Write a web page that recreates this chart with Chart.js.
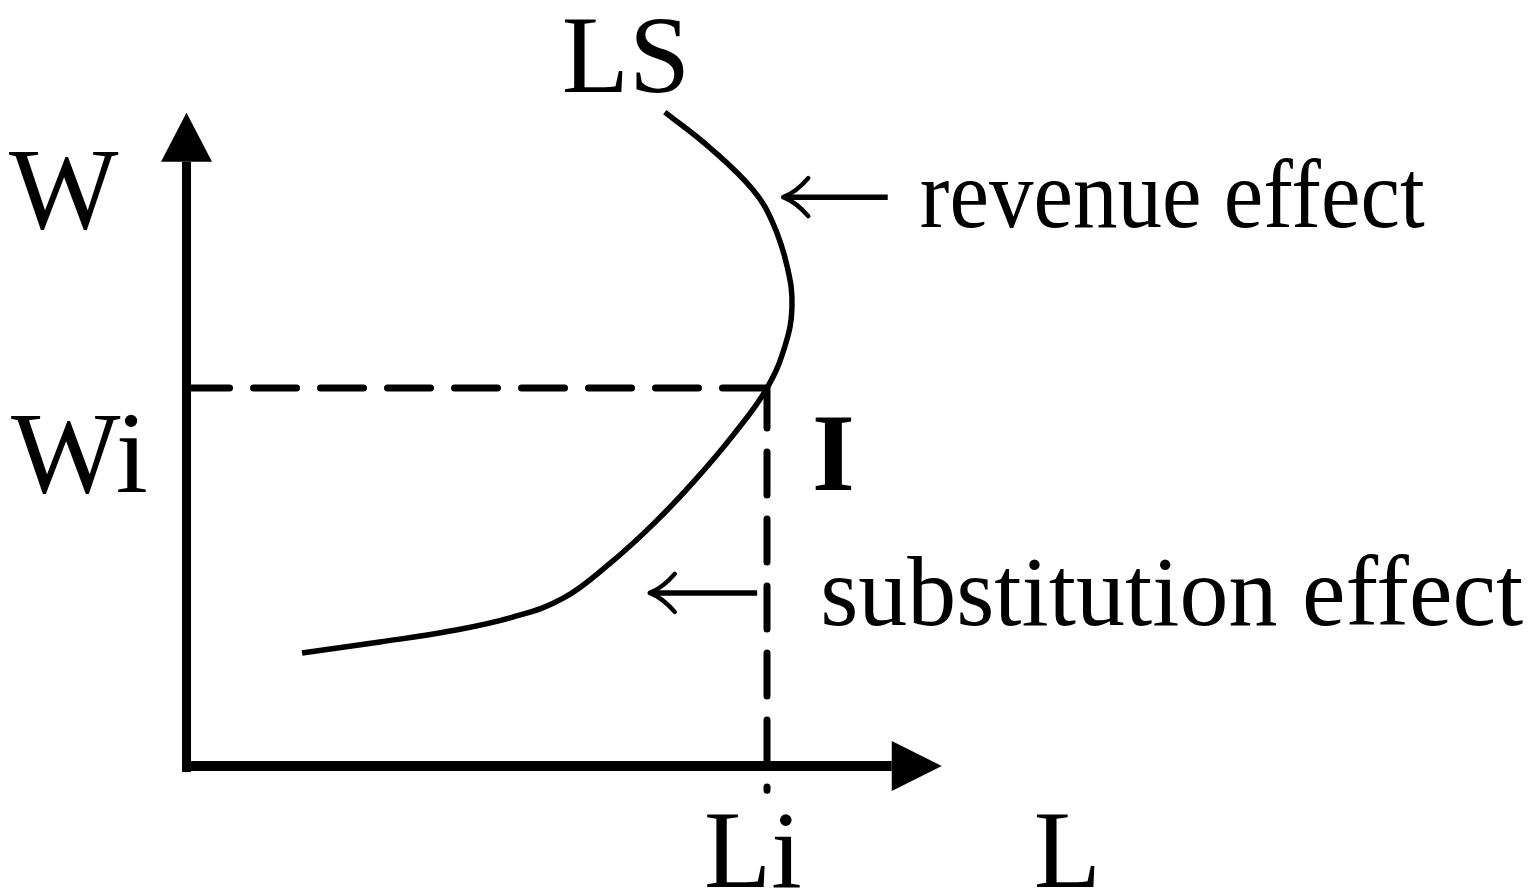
<!DOCTYPE html>
<html>
<head>
<meta charset="utf-8">
<script src="https://cdn.jsdelivr.net/npm/chart.js@4.4.1/dist/chart.umd.min.js"></script>
<style>
html, body { margin: 0; padding: 0; background: #fff; }
#wrap { position: relative; width: 1534px; height: 890px; }
</style>
</head>
<body>
<div id="wrap"><canvas id="chart"></canvas></div>
<script>
// backward-bending labour supply curve LS (labour L, wage W), Li = Wi = 100
const supplyL = [19.9, 33.3, 45.4, 56.2, 64.9, 73.0, 80.4, 87.3, 94.2, 100, 103.1, 104.3, 103.5, 101.0, 97.6, 90.2, 82.4];
const supplyW = [29.9, 32.8, 35.7, 39.4, 44.4, 53.7, 64.0, 75.1, 87.6, 100, 111.1, 121.4, 132.0, 143.7, 152.4, 163.5, 173.0];
const pointI = { L: 100, W: 100 };
const axisEnd = { L: 130.1, W: 172.8 };
const axisNames = ['L', 'W'];
const tickLabels = ['Li', 'Wi'];
const curveLabel = 'LS';
const pointLabel = 'I';
const effectLabels = ['revenue effect', 'substitution effect'];
// arrows: [tail L, tip L, W]
const revenueArrow = [120.8, 102.8, 150.5];
const substitutionArrow = [98.3, 79.8, 45.8];

const serif = '"Liberation Serif", "Times New Roman", serif';

function drawArrowLeft(ctx, x1, x2, y) {
    ctx.save();
    ctx.strokeStyle = '#000';
    ctx.lineWidth = 5.5;
    ctx.lineCap = 'butt';
    ctx.beginPath();
    ctx.moveTo(x1, y);
    ctx.lineTo(x2 + 4, y);
    ctx.stroke();
    ctx.lineWidth = 4.5;
    ctx.lineCap = 'round';
    ctx.beginPath();
    ctx.moveTo(x2, y);
    ctx.quadraticCurveTo(x2 + 13, y - 5, x2 + 25, y - 19);
    ctx.moveTo(x2, y);
    ctx.quadraticCurveTo(x2 + 13, y + 5, x2 + 25, y + 19);
    ctx.stroke();
    ctx.restore();
}

const diagram = {
    id: 'diagram',
    afterDatasetsDraw(chart) {
        const ctx = chart.ctx;
        const X = v => chart.scales.x.getPixelForValue(v);
        const Y = v => chart.scales.y.getPixelForValue(v);
        const x0 = X(0), y0 = Y(0);
        const xTip = X(axisEnd.L), yTip = Y(axisEnd.W);

        ctx.save();
        ctx.fillStyle = '#000';
        // axes
        ctx.fillRect(x0 - 4.5, yTip + 49, 9, y0 + 6 - (yTip + 49));
        ctx.fillRect(x0 - 4.5, y0 - 5, xTip - 50 - (x0 - 4.5), 10);
        ctx.beginPath();
        ctx.moveTo(x0, yTip);
        ctx.lineTo(x0 + 25.5, yTip + 49);
        ctx.lineTo(x0 - 25.5, yTip + 49);
        ctx.closePath();
        ctx.fill();
        ctx.beginPath();
        ctx.moveTo(xTip, y0);
        ctx.lineTo(xTip - 50, y0 - 25);
        ctx.lineTo(xTip - 50, y0 + 25);
        ctx.closePath();
        ctx.fill();

        // effect arrows
        drawArrowLeft(ctx, X(revenueArrow[0]), X(revenueArrow[1]), Y(revenueArrow[2]));
        drawArrowLeft(ctx, X(substitutionArrow[0]), X(substitutionArrow[1]), Y(substitutionArrow[2]));

        // labels
        ctx.textAlign = 'left';
        ctx.textBaseline = 'alphabetic';
        ctx.font = '116px ' + serif;
        ctx.fillText(axisNames[1], 9, yTip + 115);
        ctx.fillText(tickLabels[1], 11, Y(pointI.W) + 104);
        ctx.font = '110px ' + serif;
        ctx.fillText(tickLabels[0], X(pointI.L) - 63, y0 + 121);
        ctx.fillText(axisNames[0], xTip + 92, y0 + 121);
        ctx.fillText(curveLabel, X(supplyL[supplyL.length - 1]) - 103, Y(supplyW[supplyW.length - 1]) - 20);
        ctx.font = 'bold 110px ' + serif;
        ctx.fillText(pointLabel, X(pointI.L) + 45, Y(pointI.W) + 102);

        ctx.font = '98px ' + serif;
        ctx.fillText(effectLabels[0], X(revenueArrow[0]) + 32, Y(revenueArrow[2]) + 30, 505);
        ctx.font = '100px ' + serif;
        ctx.fillText(effectLabels[1], X(substitutionArrow[0]) + 63, Y(substitutionArrow[2]) + 32, 703);
        ctx.restore();
    }
};

const ctx = document.getElementById('chart').getContext('2d');

const chart = new Chart(ctx, {
    type: 'scatter',
    data: {
        datasets: [
            {
                label: curveLabel,
                data: supplyL.map((l, i) => ({ x: l, y: supplyW[i] })),
                showLine: true,
                borderColor: '#000',
                borderWidth: 5.5,
                pointRadius: 0,
                tension: 0.4,
                fill: false
            },
            {
                label: 'Wi',
                data: [{ x: 0, y: pointI.W }, { x: pointI.L, y: pointI.W }],
                showLine: true,
                borderColor: '#000',
                borderWidth: 7,
                borderDash: [43, 24],
                borderCapStyle: 'round',
                pointRadius: 0,
                fill: false
            },
            {
                label: 'Li',
                data: [{ x: pointI.L, y: pointI.W }, { x: pointI.L, y: -6.4 }],
                showLine: true,
                borderColor: '#000',
                borderWidth: 7,
                borderDash: [43, 24],
                borderDashOffset: 3,
                borderCapStyle: 'round',
                pointRadius: 0,
                fill: false
            }
        ]
    },
    options: {
        responsive: true,
        maintainAspectRatio: false,
        animation: false,
        layout: { padding: 0 },
        scales: {
            x: { type: 'linear', display: false, min: -32.13, max: 232.13 },
            y: { type: 'linear', display: false, min: -32.8, max: 202.65 }
        },
        plugins: {
            legend: { display: false },
            tooltip: { enabled: false }
        }
    },
    plugins: [diagram]
});
</script>
</body>
</html>
